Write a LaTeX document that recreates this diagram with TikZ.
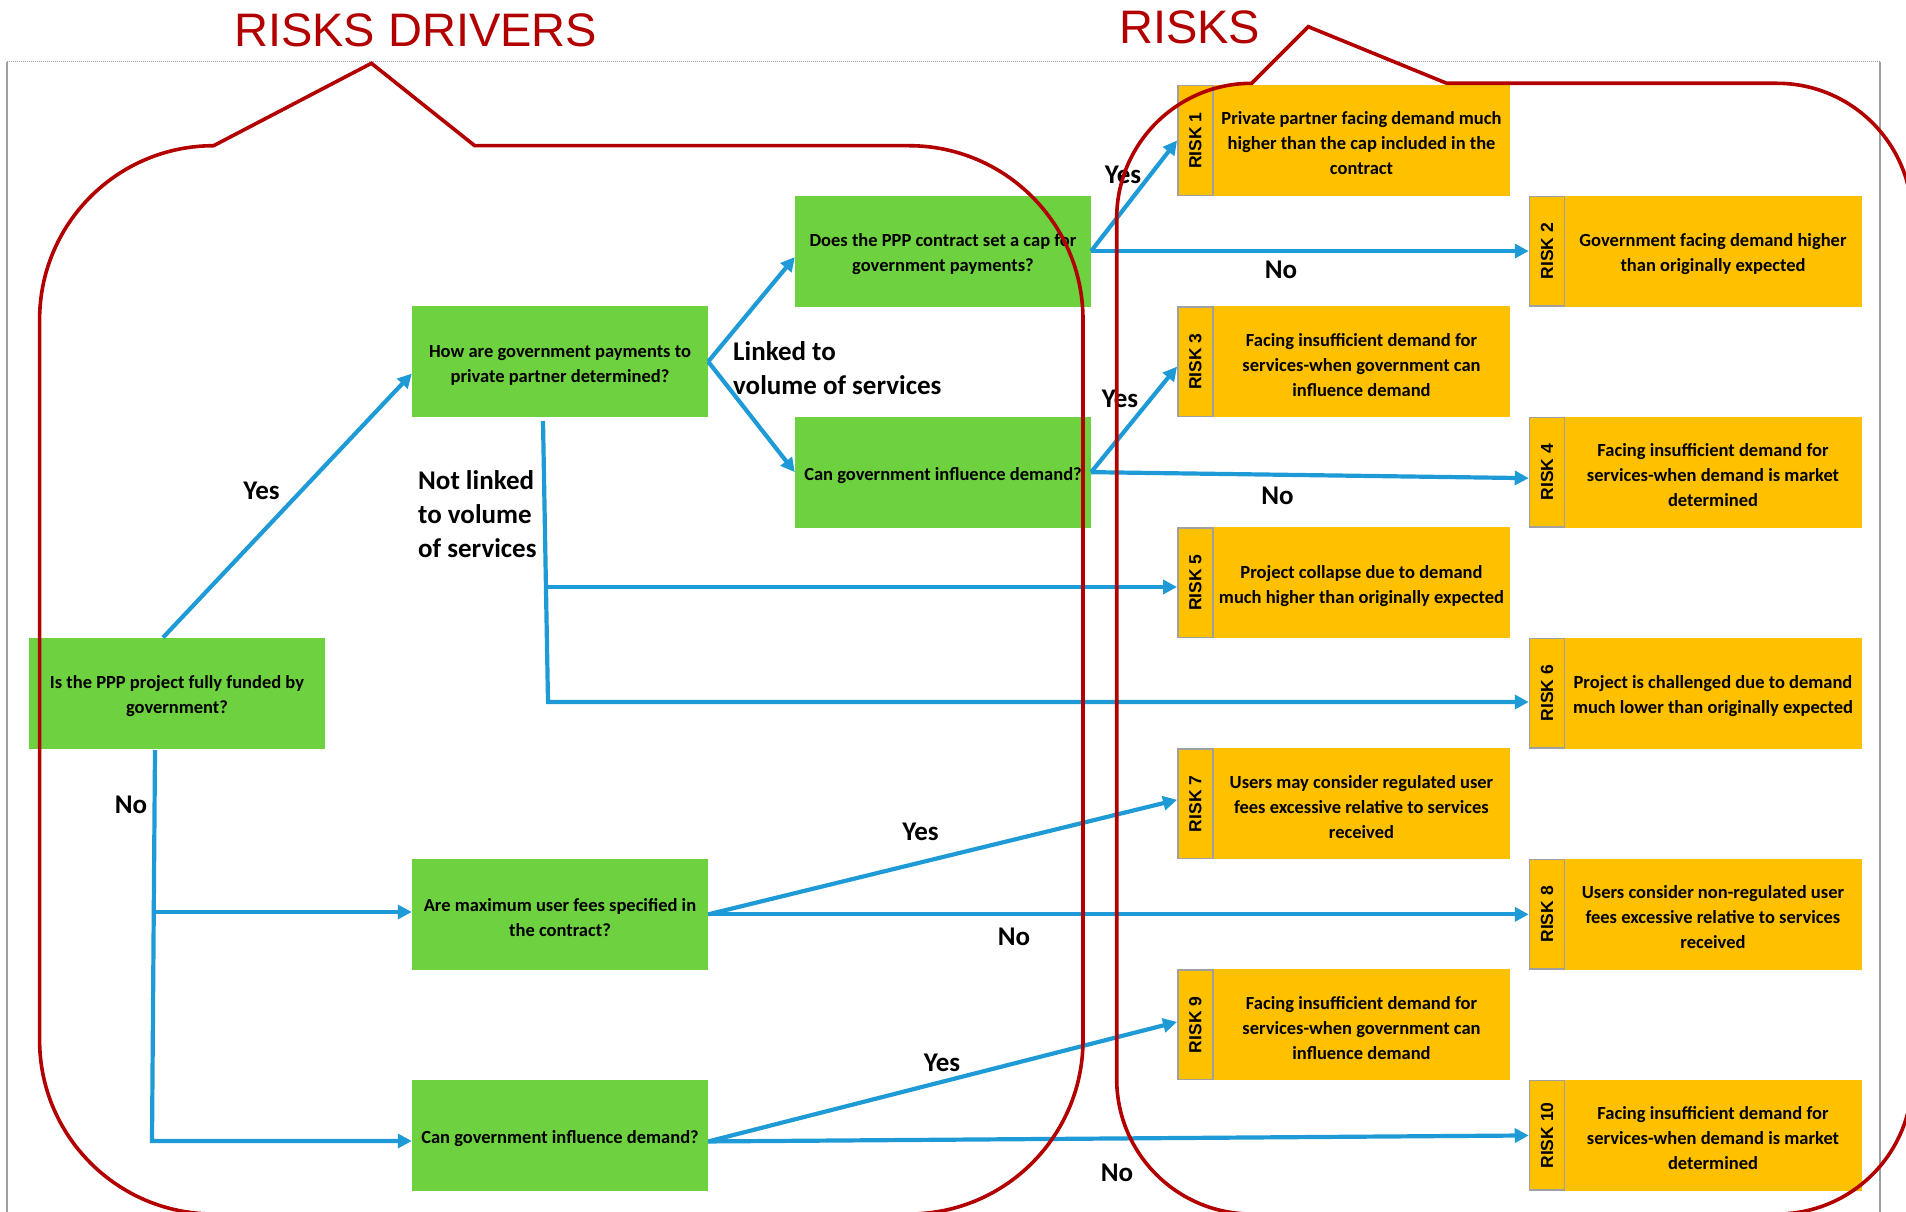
\documentclass[tikz,border=0pt]{standalone}
\usepackage{fontspec}
\newfontfamily\carlito{Carlito}
\newfontfamily\libsans{Liberation Sans}
\usetikzlibrary{arrows.meta}
\definecolor{boxgreen}{RGB}{110,209,64}
\definecolor{riskyellow}{RGB}{255,192,0}
\definecolor{flowblue}{RGB}{30,155,215}
\definecolor{darkred}{RGB}{178,0,0}
\definecolor{framegray}{RGB}{160,160,160}
\newcommand\firstlinelift{\rule{0pt}{19pt}}
\begin{document}
\begin{tikzpicture}[x=1pt,y=-1pt,
  qbox/.style={fill=boxgreen, minimum width=296pt, minimum height=111pt, align=center, inner sep=1pt, font=\carlito\bfseries\fontsize{18.5}{25}\selectfont},
  riskbody/.style={fill=riskyellow, minimum width=297pt, minimum height=111pt, align=center, inner sep=1pt, font=\carlito\bfseries\fontsize{18.5}{25}\selectfont},
  riskstrip/.style={fill=riskyellow, draw=framegray, line width=1.5pt, minimum width=35pt, minimum height=109.5pt, inner sep=0pt, font=\libsans\bfseries\fontsize{17.5}{20}\selectfont},
  flow/.style={draw=flowblue, line width=4.2pt},
  flowarrow/.style={flow, -{Triangle[length=14pt,width=14pt]}},
  lbl/.style={font=\carlito\bfseries\fontsize{27}{34}\selectfont, inner sep=0pt},
  callout/.style={draw=darkred, line width=3.6pt, line join=miter},
  title/.style={font=\libsans\fontsize{47}{50}\selectfont, text=darkred, inner sep=0pt},
  framerule/.style={draw=framegray, line width=1.3pt}
]
\useasboundingbox (0,0) rectangle (1906,1212);
% frame
\draw[framerule, line width=1pt, dash pattern=on 1pt off 1pt] (7,62) -- (1880,62);
\draw[framerule] (7,62) -- (7,1214);
\draw[framerule] (1880,62) -- (1880,1214);

% question boxes
\node[qbox] (fund) at (177,693.25) {\firstlinelift Is the PPP project fully funded by\\government?};
\node[qbox] (how) at (560,361.6) {\firstlinelift How are government payments to\\private partner determined?};
\node[qbox] (cap) at (943,251.05) {\firstlinelift Does the PPP contract set a cap for\\government payments?};
\node[qbox] (infl) at (943,472.15) {\firstlinelift Can government influence demand?};
\node[qbox] (fees) at (560,914.35) {\firstlinelift Are maximum user fees specified in\\the contract?};
\node[qbox] (infl2) at (560,1135.45) {\firstlinelift Can government influence demand?};

% risk boxes
\node[riskbody] (r1) at (1361.5,140.5) {\firstlinelift Private partner facing demand much\\higher than the cap included in the\\contract};
\node[riskstrip] (s1) at (1195.3,140.5) {\rotatebox{90}{RISK 1}};
\node[riskbody] (r2) at (1713,251.05) {\firstlinelift Government facing demand higher\\than originally expected};
\node[riskstrip] (s2) at (1547,251.05) {\rotatebox{90}{RISK 2}};
\node[riskbody] (r3) at (1361.5,361.6) {\firstlinelift Facing insufficient demand for\\services-when government can\\influence demand};
\node[riskstrip] (s3) at (1195.3,361.6) {\rotatebox{90}{RISK 3}};
\node[riskbody] (r4) at (1713,472.15) {\firstlinelift Facing insufficient demand for\\services-when demand is market\\determined};
\node[riskstrip] (s4) at (1547,472.15) {\rotatebox{90}{RISK 4}};
\node[riskbody] (r5) at (1361.5,582.7) {\firstlinelift Project collapse due to demand\\much higher than originally expected};
\node[riskstrip] (s5) at (1195.3,582.7) {\rotatebox{90}{RISK 5}};
\node[riskbody] (r6) at (1713,693.25) {\firstlinelift Project is challenged due to demand\\much lower than originally expected};
\node[riskstrip] (s6) at (1547,693.25) {\rotatebox{90}{RISK 6}};
\node[riskbody] (r7) at (1361.5,803.8) {\firstlinelift Users may consider regulated user\\fees excessive relative to services\\received};
\node[riskstrip] (s7) at (1195.3,803.8) {\rotatebox{90}{RISK 7}};
\node[riskbody] (r8) at (1713,914.35) {\firstlinelift Users consider non-regulated user\\fees excessive relative to services\\received};
\node[riskstrip] (s8) at (1547,914.35) {\rotatebox{90}{RISK 8}};
\node[riskbody] (r9) at (1361.5,1024.9) {\firstlinelift Facing insufficient demand for\\services-when government can\\influence demand};
\node[riskstrip] (s9) at (1195.3,1024.9) {\rotatebox{90}{RISK 9}};
\node[riskbody] (r10) at (1713,1135.45) {\firstlinelift Facing insufficient demand for\\services-when demand is market\\determined};
\node[riskstrip] (s10) at (1547,1135.45) {\rotatebox{90}{RISK 10}};

% connectors
\coordinate (fb) at (155,750);
\coordinate (j1) at (154,912);
\coordinate (j2) at (152,1141);
\coordinate (hb) at (543,421);
\coordinate (v5) at (546,587);
\coordinate (v6) at (548,702);

\draw[flowarrow] ([xshift=-14pt]fund.north) -- ([yshift=-12pt]how.west);
\draw[flowarrow] (fb) -- (j2) -- (j2 -| infl2.west);
\draw[flowarrow] (j1) -- (j1 -| fees.west);
\draw[flowarrow] (hb) -- (v6) -- (v6 -| s6.west);
\draw[flowarrow] (v5) -- (v5 -| s5.west);
\draw[flowarrow] (how.east) -- ([yshift=-6pt]cap.west);
\draw[flowarrow] (how.east) -- (infl.west);
\draw[flowarrow] (cap.east) -- (s1.west);
\draw[flowarrow] (cap.east) -- (s2.west);
\draw[flowarrow] (infl.east) -- ([yshift=-5pt]s3.west);
\draw[flowarrow] (infl.east) -- ([yshift=-6pt]s4.west);
\draw[flowarrow] (fees.east) -- ([yshift=4pt]s7.west);
\draw[flowarrow] (fees.east) -- (s8.west);
\draw[flowarrow] ([yshift=-6pt]infl2.east) -- ([yshift=3pt]s9.west);
\draw[flowarrow] ([yshift=-6pt]infl2.east) -- (s10.west);

% labels
\node[lbl, anchor=base] (yes1) at (261.5,499) {Yes};
\node[lbl, anchor=base] (no1) at (131,813) {No};
\node[lbl, anchor=base west, align=left] (notlinked) at (418,557) {Not linked\\to volume\\of services};
\node[lbl, anchor=base west, align=left] (linked) at (733,394) {Linked to\\volume of services};
\node[lbl, anchor=base] (yes2) at (1123,183) {Yes};
\node[lbl, anchor=base] (no2) at (1281,278) {No};
\node[lbl, anchor=base] (yes3) at (1120,407) {Yes};
\node[lbl, anchor=base] (no3) at (1277.5,504) {No};
\node[lbl, anchor=base] (yes4) at (920.5,840) {Yes};
\node[lbl, anchor=base] (no4) at (1014,945) {No};
\node[lbl, anchor=base] (yes5) at (942,1071) {Yes};
\node[lbl, anchor=base] (no5) at (1117,1181.7) {No};

% callouts
\draw[callout] (213.6,145.7) -- (371.4,63.3) -- (474.7,145.7) -- (909,145.7)
  arc[start angle=-90, end angle=0, radius=174] -- (1083,1040)
  arc[start angle=0, end angle=90, radius=174] -- (213.6,1214)
  arc[start angle=90, end angle=180, radius=174] -- (39.6,319.7)
  arc[start angle=180, end angle=270, radius=174] -- cycle;
\draw[callout] (1251.7,83.3) -- (1308.3,26.7) -- (1446.7,83.3) -- (1777,83.3)
  arc[start angle=-90, end angle=0, radius=135] -- (1912,1079)
  arc[start angle=0, end angle=90, radius=135] -- (1251.7,1214)
  arc[start angle=90, end angle=180, radius=135] -- (1116.7,218.3)
  arc[start angle=180, end angle=270, radius=135] -- cycle;

% titles
\node[title, anchor=base west] (t1) at (234,47) {RISKS DRIVERS};
\node[title, anchor=base west] (t2) at (1119,43.3) {RISKS};
\end{tikzpicture}
\end{document}
